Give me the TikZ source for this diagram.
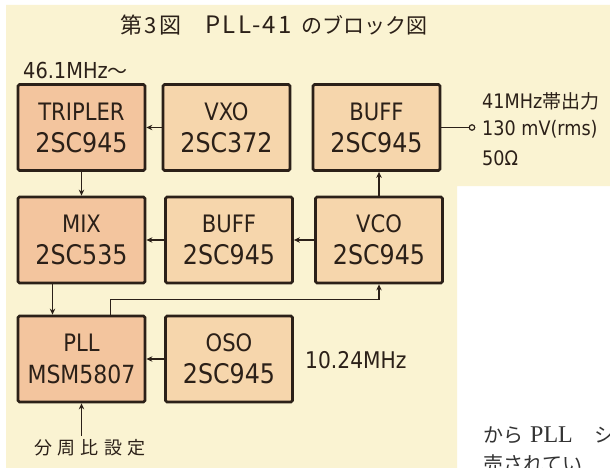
\documentclass[tikz,border=0pt]{standalone}
\usepackage{fontspec}
\setmainfont{DejaVu Sans}
\newfontfamily\bxf[FakeStretch=0.88]{DejaVu Sans}
\newfontfamily\jpf{Noto Sans CJK JP}
\newfontfamily\jpfsp[LetterSpace=10]{Noto Sans CJK JP}
\newfontfamily\jpfti[LetterSpace=12]{Noto Sans CJK JP}
\newfontfamily\jpfdiv[LetterSpace=30]{Noto Sans CJK JP}
\newfontfamily\serf{Liberation Serif}
\usetikzlibrary{arrows.meta}

\definecolor{bg}{HTML}{FAF3D2}
\definecolor{fillA}{HTML}{F3C59E}
\definecolor{fillB}{HTML}{F6D6AC}
\definecolor{ink}{HTML}{2B2018}

\tikzset{
  blk/.style={draw=ink, line width=2.8pt, rounded corners=1.5pt, fill=fillB,
    minimum width=127pt, minimum height=86pt, inner sep=0pt, align=center,
    text=ink, font=\bxf\fontsize{24}{32}\selectfont},
  blkA/.style={blk, fill=fillA},
  arr/.style={draw=ink, line width=1.4pt, -{Stealth[length=6pt,width=5.5pt]}},
  wire/.style={draw=ink, line width=1.4pt},
  lbl/.style={text=ink, inner sep=0pt, anchor=west},
  ttl/.style={text=ink, inner sep=0pt, anchor=west, font=\jpf\fontsize{21}{21}\selectfont},
}
\newcommand\Lb[1]{{\fontsize{27}{32}\selectfont #1}}

\begin{document}
\begin{tikzpicture}[x=1pt, y=-1pt]
\clip (0,0) rectangle (610,468);
\fill[white] (0,0) rectangle (610,468);
\fill[bg] (6,5) -- (610,5) -- (610,186) -- (457,186) -- (457,468) -- (6,468) -- cycle;

% title
\node[ttl, font=\jpfti\fontsize{22}{22}\selectfont] (t1) at (120,25) {第3図};
\node[ttl, font=\jpfsp\fontsize{24}{24}\selectfont] (t2) at (205,25) {PLL-41};
\node[ttl] (t3) at (301,25) {のブロック図};

% blocks
\node[blkA] (tri)  at (81.5,127.5) {TRIPLER\\\Lb{2SC945}};
\node[blk]  (vxo)  at (226.5,127.5) {VXO\\\Lb{2SC372}};
\node[blk]  (buf1) at (376.5,127.5) {BUFF\\\Lb{2SC945}};
\node[blkA] (mix)  at (81.5,240) {MIX\\\Lb{2SC535}};
\node[blk]  (buf2) at (229,240) {BUFF\\\Lb{2SC945}};
\node[blk]  (vco)  at (379,240) {VCO\\\Lb{2SC945}};
\node[blkA] (pll)  at (81.5,359) {PLL\\{\fontsize{25}{32}\selectfont MSM5807}};
\node[blk]  (oso)  at (229,359) {OSO\\\Lb{2SC945}};

% connectors
\draw[arr] (vxo.west) -- (tri.east);
\draw[arr] (tri.south) -- (mix.north);
\draw[arr] (buf2.west) -- (mix.east);
\draw[arr] (vco.west) -- (buf2.east);
\draw[arr] (vco.north) -- (vco.north |- buf1.south);
\draw[arr] ([xshift=-29pt]mix.south) -- ([xshift=-29pt]mix.south |- pll.north);
\coordinate (fb) at ([xshift=29pt, yshift=15pt]pll.north);
\draw[arr] ([xshift=29pt]pll.north) -- (fb) -| (vco.south);
\draw[arr] (oso.west) -- (pll.east);
\coordinate (div) at (81.5,436);
\draw[arr] (div) -- (pll.south);

% output terminal
\node[circle, draw=ink, line width=1.2pt, minimum size=5.5pt, inner sep=0pt] (term) at (472,127.5) {};
\draw[wire] (buf1.east) -- (term.west);

% labels
\node[lbl, font=\bxf\fontsize{22}{22}\selectfont] (f1) at (23,70) {46.1MHz{\jpf\fontsize{20}{20}\selectfont ～}};
\node[lbl, font=\bxf\fontsize{20}{20}\selectfont] (f2) at (482,101) {41MHz{\jpf\fontsize{19}{19}\selectfont 帯出力}};
\node[lbl, font=\bxf\fontsize{20}{20}\selectfont] (f3) at (482,129) {130 mV(rms)};
\node[lbl, font=\bxf\fontsize{20}{20}\selectfont] (f4) at (482,158) {50Ω};
\node[lbl, font=\bxf\fontsize{23}{23}\selectfont] (f5) at (305,360) {10.24MHz};
\node[lbl, font=\jpfdiv\fontsize{18}{18}\selectfont] (f6) at (34,448) {分周比設定};

% page text at lower right (cut by the page edge, as in the reference)
\node[lbl, text=black!80, font=\jpf\fontsize{20}{20}\selectfont] (p1) at (483,435)
  {から\hspace{7pt}{\serf\fontsize{24}{24}\selectfont PLL}\hspace{22pt}シ};
\node[lbl, text=black!80, font=\jpf\fontsize{20}{20}\selectfont] (p2) at (483,464) {売されてい};
\end{tikzpicture}
\end{document}
